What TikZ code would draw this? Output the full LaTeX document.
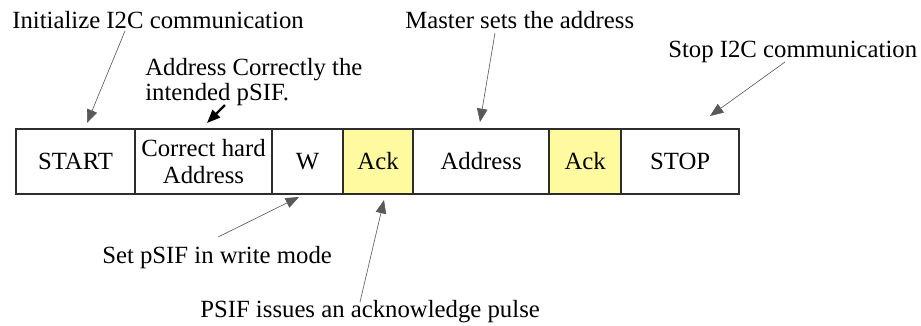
\documentclass[tikz,border=0pt]{standalone}
\usepackage{fontspec}
\setmainfont{Liberation Serif}
\usetikzlibrary{arrows.meta,positioning}
\definecolor{ackyellow}{RGB}{255,250,160}
\definecolor{framegray}{RGB}{45,45,45}
\tikzset{
  cell/.style={draw=framegray, line width=1.1pt, outer sep=0pt, inner sep=0pt,
    minimum height=1.625cm, align=center, font=\fontsize{17.6}{19}\selectfont},
  ackcell/.style={cell, fill=ackyellow},
  note/.style={inner sep=0pt, align=left, anchor=base west,
    font=\fontsize{17.6}{17.7}\selectfont},
  callout/.style={draw=black!65, line width=0.45pt,
    -{Triangle[length=9.5pt,width=7.5pt]}},
}

\begin{document}
\begin{tikzpicture}[x=0.025cm, y=-0.025cm]
			%%%%% FRAME %%%%%
			\useasboundingbox (0, 0) rectangle (921, 325);
			
			\node[cell, anchor=north west, minimum width=2.975cm] (start) at (16, 129) {START};
			\node[cell, right=0pt of start, minimum width=3.425cm] (hard) {Correct hard\\Address};
			\node[cell, right=0pt of hard, minimum width=1.775cm] (wbit) {W};
			\node[ackcell, right=0pt of wbit, minimum width=1.75cm] (ackone) {Ack};
			\node[cell, right=0pt of ackone, minimum width=3.4cm] (addr) {Address};
			\node[ackcell, right=0pt of addr, minimum width=1.8cm] (acktwo) {Ack};
			\node[cell, right=0pt of acktwo, minimum width=2.95cm] (stop) {STOP};
			
			%%%%% NOTES %%%%%
			\node[note] (init) at (12, 28) {Initialize I2C communication};
			\node[note] (correct) at (145, 100) {Address Correctly the\\intended pSIF.};
			\node[note] (master) at (405, 28) {Master sets the address};
			\node[note] (halt) at (668, 57) {Stop I2C communication};
			\node[note] (setw) at (102, 263) {Set pSIF in write mode};
			\node[note] (psif) at (200, 317) {PSIF issues an acknowledge pulse};
			
			%%%%% ARROWS %%%%%
			\coordinate (initFrom) at (125, 31);
			\coordinate (initTo) at (87, 123);
			\coordinate (correctFrom) at (225, 105);
			\coordinate (correctTo) at (207, 123);
			\coordinate (masterFrom) at (495, 33);
			\coordinate (masterTo) at (480, 122);
			\coordinate (haltFrom) at (785, 62);
			\coordinate (haltTo) at (710, 116);
			\coordinate (setwFrom) at (218, 237);
			\coordinate (setwTo) at (299, 197);
			\coordinate (psifFrom) at (360, 302);
			\coordinate (psifTo) at (384, 200);
			
			\draw[callout] (initFrom) -- (initTo);
			\draw[callout, draw=black, line width=1.6pt] (correctFrom) -- (correctTo);
			\draw[callout] (masterFrom) -- (masterTo);
			\draw[callout] (haltFrom) -- (haltTo);
			\draw[callout] (setwFrom) -- (setwTo);
			\draw[callout] (psifFrom) -- (psifTo);
			
			%%%%% END %%%%%
\end{tikzpicture}
\end{document}
